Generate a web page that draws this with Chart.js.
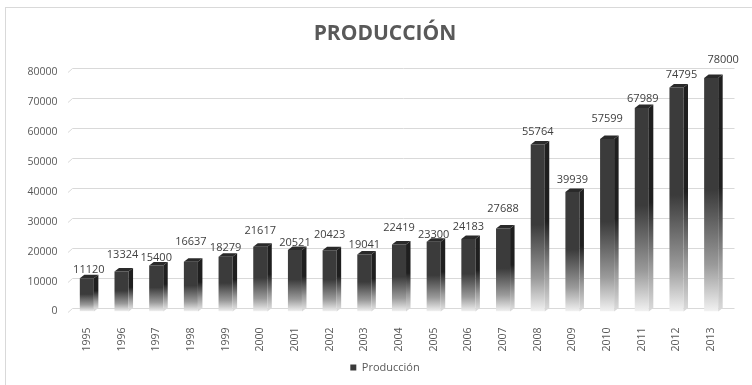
<!DOCTYPE html>
<html>
<head>
<meta charset="utf-8">
<script src="https://cdn.jsdelivr.net/npm/chart.js@4.4.1/dist/chart.umd.min.js"></script>
<style>
  html, body { margin: 0; padding: 0; background: #ffffff; }
  #wrap { width: 752px; height: 385px; position: relative; }
</style>
</head>
<body>
<div id="wrap"><canvas id="chart" width="752" height="385"></canvas></div>
<script>
// Production per year
const years = ['1995', '1996', '1997', '1998', '1999', '2000', '2001', '2002', '2003', '2004',
               '2005', '2006', '2007', '2008', '2009', '2010', '2011', '2012', '2013'];
const produccion = [11120, 13324, 15400, 16637, 18279, 21617, 20521, 20423, 19041, 22419,
                    23300, 24183, 27688, 55764, 39939, 57599, 67989, 74795, 78000];
const yTickValues = [0, 10000, 20000, 30000, 40000, 50000, 60000, 70000, 80000];

// Value-label placement (pixels above the bar top, horizontal nudge)
const labelLift  = [8, 17, 8, 20, 9, 16, 7, 15, 10, 17, 7, 12, 20, 13, 12, 20, 9, 13, 18];
const labelShift = [2, 1, 0, 0, 0, 0, 0, 0, 0, 0, 0, 0, 0, 0, 0, 0, 1, 5, 12];

const FONT = '"Open Sans", "Liberation Sans", sans-serif';
const DEPTH = { dx: 4.5, dy: 3.5 };

function fadeGradient(ctx, top, bottom, dark, light) {
  const g = ctx.createLinearGradient(0, top, 0, bottom);
  g.addColorStop(0, dark);
  g.addColorStop(0.48, dark);
  g.addColorStop(0.8, '#9a9a9a');
  g.addColorStop(1, light);
  return g;
}

// Frame, back-wall gridlines, 3D faces and value labels
const columns3d = {
  id: 'columns3d',
  beforeDraw(chart) {
    const ctx = chart.ctx;
    ctx.save();
    ctx.strokeStyle = '#d9d9d9';
    ctx.lineWidth = 1;
    ctx.strokeRect(5.5, 7.5, 900, 900);
    ctx.restore();
  },
  beforeDatasetsDraw(chart) {
    const { ctx, chartArea } = chart;
    const y = chart.scales.y;
    ctx.save();
    ctx.strokeStyle = '#d9d9d9';
    ctx.lineWidth = 1;
    y.ticks.forEach(t => {
      const py = Math.round(y.getPixelForValue(t.value)) + 0.5;
      ctx.beginPath();
      ctx.moveTo(chartArea.left - 1.5, py);
      ctx.lineTo(chartArea.left + 3, py - 4);
      ctx.lineTo(chartArea.right + 6, py - 4);
      ctx.stroke();
    });
    ctx.restore();
  },
  afterDatasetsDraw(chart) {
    const ctx = chart.ctx;
    const meta = chart.getDatasetMeta(0);
    ctx.save();
    meta.data.forEach((bar, i) => {
      const { x, y, base, width } = bar.getProps(['x', 'y', 'base', 'width'], true);
      const l = x - width / 2, r = x + width / 2;
      // side face
      ctx.fillStyle = fadeGradient(ctx, y - DEPTH.dy, base - DEPTH.dy, '#1f1f1f', '#d8d8d8');
      ctx.beginPath();
      ctx.moveTo(r, y);
      ctx.lineTo(r + DEPTH.dx, y - DEPTH.dy);
      ctx.lineTo(r + DEPTH.dx, base - DEPTH.dy);
      ctx.lineTo(r, base);
      ctx.closePath();
      ctx.fill();
      // top face
      ctx.fillStyle = '#2a2a2a';
      ctx.beginPath();
      ctx.moveTo(l, y);
      ctx.lineTo(l + DEPTH.dx, y - DEPTH.dy);
      ctx.lineTo(r + DEPTH.dx, y - DEPTH.dy);
      ctx.lineTo(r, y);
      ctx.closePath();
      ctx.fill();
    });
    // value labels
    ctx.fillStyle = '#404040';
    ctx.font = '11px ' + FONT;
    ctx.textAlign = 'center';
    ctx.textBaseline = 'middle';
    meta.data.forEach((bar, i) => {
      const { x, y } = bar.getProps(['x', 'y'], true);
      ctx.fillText(String(produccion[i]), x + labelShift[i], y - labelLift[i]);
    });
    ctx.restore();
  }
};

new Chart(document.getElementById('chart'), {
  type: 'bar',
  data: {
    labels: years,
    datasets: [{
      label: 'Producción',
      data: produccion,
      yAxisID: 'y',
      barPercentage: 0.5,
      categoryPercentage: 0.81,
      borderWidth: 0,
      backgroundColor(c) {
        const chart = c.chart;
        const ys = chart.scales.y;
        if (!chart.chartArea || !ys || c.type !== 'data') return '#3a3a3a';
        const top = ys.getPixelForValue(produccion[c.dataIndex]);
        const bottom = ys.getPixelForValue(0);
        return fadeGradient(chart.ctx, top, bottom, '#3b3b3b', '#f2f2f2');
      }
    }]
  },
  options: {
    responsive: false,
    animation: false,
    devicePixelRatio: 1,
    layout: { padding: { left: 18, right: 0, top: 8, bottom: 2 } },
    plugins: {
      title: {
        display: true,
        text: 'PRODUCCIÓN',
        color: '#595959',
        font: { family: FONT, size: 21, weight: 'bold' },
        padding: { top: 13, bottom: 25.8 }
      },
      legend: {
        display: true,
        position: 'bottom',
        labels: {
          color: '#595959',
          font: { family: FONT, size: 11 },
          boxWidth: 6,
          boxHeight: 6,
          padding: 10,
          generateLabels(chart) {
            return [{
              text: chart.data.datasets[0].label,
              fillStyle: '#3a3a3a',
              strokeStyle: '#3a3a3a',
              lineWidth: 0,
              datasetIndex: 0,
              fontColor: '#595959'
            }];
          }
        }
      },
      tooltip: { enabled: false }
    },
    scales: {
      x: {
        offset: true,
        grid: { display: false },
        border: { display: false },
        ticks: {
          color: '#595959',
          font: { family: FONT, size: 10.5 },
          minRotation: 90,
          maxRotation: 90,
          padding: 8,
          autoSkip: false
        },
        afterFit(scale) { scale.height = 40.5; }
      },
      y: {
        min: 0,
        max: 80000,
        grid: { display: false, drawTicks: false },
        border: { display: false },
        afterBuildTicks(scale) { scale.ticks = yTickValues.map(v => ({ value: v })); },
        ticks: {
          color: '#595959',
          font: { family: FONT, size: 10.5 },
          padding: 12,
          callback: v => String(v)
        },
        afterFit(scale) { scale.width = 51.5; }
      },
      // empty right-hand margin beside the plot
      yRight: {
        position: 'right',
        display: true,
        min: 0,
        max: 80000,
        grid: { display: false, drawTicks: false },
        border: { display: false },
        ticks: { display: false },
        afterFit(scale) { scale.width = 23.5; }
      }
    }
  },
  plugins: [columns3d]
});
</script>
</body>
</html>
